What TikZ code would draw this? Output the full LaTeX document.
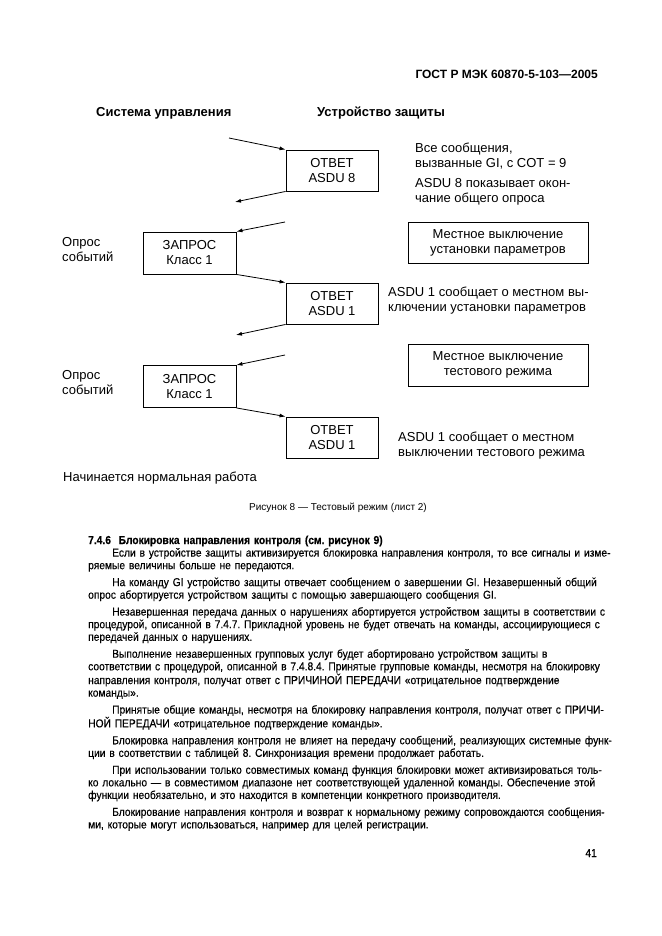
\documentclass[tikz,border=0pt]{standalone}
\usepackage{fontspec}
\setmainfont{Liberation Sans}
\newfontfamily\bodyfont[FakeStretch=0.89,FakeBold=0.25]{Liberation Sans}
\usetikzlibrary{arrows.meta}
\newcommand\bfirst[1]{\hbox to\hsize{\hskip24pt #1}}
\newcommand\bmid[1]{\hbox to\hsize{#1}}
\newcommand\blast[1]{\hbox{#1}}
\newcommand\pgap{\vskip4.3pt}
\frenchspacing
\begin{document}
\begin{tikzpicture}[x=1pt,y=-1pt,
  box/.style={draw, line width=0.9pt, minimum width=92pt, minimum height=41pt, inner sep=0pt, align=center, font=\fontsize{13}{15}\selectfont},
  lbl/.style={anchor=base west, inner sep=0pt, align=left, font=\fontsize{13}{15}\selectfont},
  hd/.style={anchor=base west, inner sep=0pt, font=\bfseries\fontsize{13}{15}\selectfont},
  arr/.style={line width=0.8pt, -{Latex[length=6pt,width=4pt]}}]
\fill[white] (0,0) rectangle (661,936);
\useasboundingbox (0,0) rectangle (661,936);

\node[anchor=base east, inner sep=0pt, font=\bfseries\fontsize{12}{14}\selectfont] (hdr) at (598,78.3) {ГОСТ Р МЭК 60870-5-103—2005};

\node[hd] (sys) at (96,116.7) {Система управления};
\node[hd] (dev) at (317,116.7) {Устройство защиты};

% first exchange
\coordinate (c1) at (229,138);
\node[box] (a8) at (332,170.5) {ОТВЕТ\\ASDU 8};
\coordinate (c2) at (235,202);
\draw[arr] (c1) -- (a8.north west);
\draw[arr] (a8.south west) -- (c2);
\node[lbl] (t1) at (415,167.7) {Все сообщения,\\вызванные GI, с COT = 9};
\node[lbl] (t2) at (415,202.7) {ASDU 8 показывает окон-\\чание общего опроса};

% second exchange
\coordinate (c3) at (285,222);
\node[box, minimum width=93pt, minimum height=42pt] (q1) at (189.5,253) {ЗАПРОС\\Класс 1};
\draw[arr] (c3) -- (q1.north east);
\node[lbl] (o1) at (62,261.7) {Опрос\\событий};
\node[box, minimum width=180pt] (m1) at (498,242.5) {Местное выключение\\установки параметров};
\node[box] (a1) at (332,303.5) {ОТВЕТ\\ASDU 1};
\draw[arr] (q1.south east) -- (a1.north west);
\coordinate (c5) at (236,335);
\draw[arr] (a1.south west) -- (c5);
\node[lbl] (t3) at (388,311.7) {ASDU 1 сообщает о местном вы-\\ключении установки параметров};

% third exchange
\coordinate (c6) at (285,355);
\node[box, minimum width=180pt, minimum height=42pt] (m2) at (498,365) {Местное выключение\\тестового режима};
\node[box, minimum width=93pt, minimum height=42pt] (q2) at (189.5,386.5) {ЗАПРОС\\Класс 1};
\draw[arr] (c6) -- (q2.north east);
\node[lbl] (o2) at (62,394.7) {Опрос\\событий};
\node[box] (a2) at (332,437.5) {ОТВЕТ\\ASDU 1};
\draw[arr] (q2.south east) -- (a2.north west);
\node[lbl] (t4) at (398,456.7) {ASDU 1 сообщает о местном\\выключении тестового режима};
\node[lbl] (start) at (63,481.7) {Начинается нормальная работа};

\node[anchor=base, inner sep=0pt, font=\fontsize{10}{12}\selectfont] (cap) at (338,510.5) {Рисунок 8 — Тестовый режим (лист 2)};

% body text
\node[anchor=base west, inner sep=0pt, text width=510pt, font=\bodyfont\fontsize{11.5}{12.6}\selectfont\frenchspacing] (body) at (88,544) {%
\blast{\bfseries 7.4.6\ \ Блокировка направления контроля (см. рисунок 9)}
\bfirst{Если в устройстве защиты активизируется блокировка направления контроля, то все сигналы и изме-}
\blast{ряемые величины больше не передаются.}
\pgap
\bfirst{На команду GI устройство защиты отвечает сообщением о завершении GI. Незавершенный общий}
\blast{опрос абортируется устройством защиты с помощью завершающего сообщения GI.}
\pgap
\bfirst{Незавершенная передача данных о нарушениях абортируется устройством защиты в соответствии с}
\bmid{процедурой, описанной в 7.4.7. Прикладной уровень не будет отвечать на команды, ассоциирующиеся с}
\blast{передачей данных о нарушениях.}
\pgap
\bfirst{Выполнение незавершенных групповых услуг будет абортировано устройством защиты в}
\bmid{соответствии с процедурой, описанной в 7.4.8.4. Принятые групповые команды, несмотря на блокировку}
\bmid{направления контроля, получат ответ с ПРИЧИНОЙ ПЕРЕДАЧИ «отрицательное подтверждение}
\blast{команды».}
\pgap
\bfirst{Принятые общие команды, несмотря на блокировку направления контроля, получат ответ с ПРИЧИ-}
\blast{НОЙ ПЕРЕДАЧИ «отрицательное подтверждение команды».}
\pgap
\bfirst{Блокировка направления контроля не влияет на передачу сообщений, реализующих системные функ-}
\blast{ции в соответствии с таблицей 8. Синхронизация времени продолжает работать.}
\pgap
\bfirst{При использовании только совместимых команд функция блокировки может активизироваться толь-}
\bmid{ко локально — в совместимом диапазоне нет соответствующей удаленной команды. Обеспечение этой}
\blast{функции необязательно, и это находится в компетенции конкретного производителя.}
\pgap
\bfirst{Блокирование направления контроля и возврат к нормальному режиму сопровождаются сообщения-}
\blast{ми, которые могут использоваться, например для целей регистрации.}
};

\node[anchor=base east, inner sep=0pt, font=\bodyfont\fontsize{11.5}{13}\selectfont] (pg) at (597,857) {41};
\end{tikzpicture}
\end{document}
